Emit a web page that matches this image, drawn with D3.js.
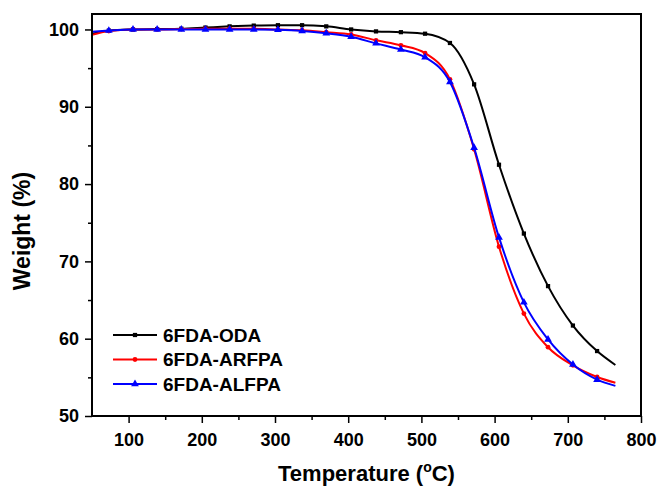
<!DOCTYPE html>
<html>
<head>
<meta charset="utf-8">
<script src="https://cdn.jsdelivr.net/npm/d3@7"></script>
<style>
body { margin: 0; background: #fff; }
text { font-family: Arial, "Liberation Sans", sans-serif; font-weight: bold; }
</style>
</head>
<body>
<div id="chart"></div>
<script>
// data
var temps = [50, 73, 106, 139, 172, 205, 238, 271, 304, 337, 370, 404, 438, 472, 505, 539, 572, 606, 640, 673, 707, 740, 765];
var odaW   = [99.45, 99.85, 100.0, 100.05, 100.1, 100.25, 100.4, 100.5, 100.55, 100.55, 100.4, 100.0, 99.75, 99.65, 99.45, 98.25, 92.9, 82.5, 73.6, 66.8, 61.7, 58.4, 56.6];
var arfpaW = [99.3, 99.8, 100.0, 100.0, 100.05, 100.1, 100.1, 100.1, 100.0, 99.9, 99.65, 99.35, 98.6, 97.95, 96.95, 93.55, 84.5, 71.9, 63.25, 58.9, 56.55, 55.05, 54.3];
var alfpaW = [99.7, 99.85, 100.0, 100.0, 100.0, 100.0, 100.0, 100.0, 99.95, 99.8, 99.5, 99.05, 98.2, 97.4, 96.4, 93.2, 84.7, 73.1, 64.7, 59.9, 56.65, 54.7, 53.9];
var seriesNames = ["6FDA-ODA", "6FDA-ARFPA", "6FDA-ALFPA"];
var xTicks = [100, 200, 300, 400, 500, 600, 700, 800];
var yTicks = [50, 60, 70, 80, 90, 100];

var W = 657, H = 488;
var margin = {left: 92, top: 14, right: 16, bottom: 72};

var svg = d3.select("#chart").append("svg")
	.attr("width", W)
	.attr("height", H);

var x = d3.scaleLinear().domain([50, 800]).range([margin.left, W - margin.right]);
var y = d3.scaleLinear().domain([50, 102]).range([H - margin.bottom, margin.top]);

var series = [
	{name: seriesNames[0], vals: odaW,   color: "#000000", sym: d3.symbolSquare,   size: 18},
	{name: seriesNames[1], vals: arfpaW, color: "#ff0000", sym: d3.symbolCircle,   size: 18},
	{name: seriesNames[2], vals: alfpaW, color: "#0000ff", sym: d3.symbolTriangle, size: 26}
];

var line = d3.line()
	.x(function(d){ return x(d[0]); })
	.y(function(d){ return y(d[1]); })
	.curve(d3.curveMonotoneX);

var plot = svg.append("g");

series.forEach(function(s){
	var pts = temps.map(function(t, i){ return [t, s.vals[i]]; });
	plot.append("path")
		.datum(pts)
		.attr("d", line)
		.attr("fill", "none")
		.attr("stroke", s.color)
		.attr("stroke-width", 2);
	// markers on the interior points only
	plot.selectAll(null)
		.data(pts.slice(1, pts.length - 1))
		.enter().append("path")
		.attr("d", d3.symbol().type(s.sym).size(s.size))
		.attr("transform", function(d){ return "translate(" + x(d[0]) + "," + y(d[1]) + ")"; })
		.attr("fill", s.color);
});

// frame
svg.append("rect")
	.attr("x", margin.left)
	.attr("y", margin.top)
	.attr("width", W - margin.right - margin.left)
	.attr("height", H - margin.bottom - margin.top)
	.attr("fill", "none")
	.attr("stroke", "#000")
	.attr("stroke-width", 2);

// minor ticks
var xMinor = d3.range(150, 800, 100);
var yMinor = d3.range(55, 100, 10);

svg.append("g")
	.attr("transform", "translate(0," + (H - margin.bottom) + ")")
	.call(d3.axisBottom(x).tickValues(xTicks).tickSize(7).tickPadding(10).tickFormat(d3.format("d")));
svg.append("g")
	.attr("transform", "translate(0," + (H - margin.bottom) + ")")
	.call(d3.axisBottom(x).tickValues(xMinor).tickSize(4).tickFormat(""));

svg.append("g")
	.attr("transform", "translate(" + margin.left + ",0)")
	.call(d3.axisLeft(y).tickValues(yTicks).tickSize(7).tickPadding(6).tickFormat(d3.format("d")));
svg.append("g")
	.attr("transform", "translate(" + margin.left + ",0)")
	.call(d3.axisLeft(y).tickValues(yMinor).tickSize(4).tickFormat(""));

svg.selectAll(".domain").remove();
svg.selectAll(".tick line").attr("stroke", "#000").attr("stroke-width", 1.5);
svg.selectAll(".tick text")
	.attr("fill", "#000")
	.style("font-size", "18px")
	.style("font-family", "Arial, 'Liberation Sans', sans-serif")
	.style("font-weight", "bold");

// axis titles
var xt = svg.append("text")
	.attr("x", (margin.left + W - margin.right) / 2)
	.attr("y", 481)
	.attr("text-anchor", "middle")
	.style("font-size", "22px");
xt.append("tspan").text("Temperature (");
xt.append("tspan").attr("dy", -9).style("font-size", "14px").text("o");
xt.append("tspan").attr("dy", 9).text("C)");

svg.append("text")
	.attr("transform", "translate(30,231) rotate(-90)")
	.attr("text-anchor", "middle")
	.style("font-size", "23px")
	.text("Weight (%)");

// legend
var legend = svg.append("g");
series.forEach(function(s, i){
	var ly = 335 + i * 24.5;
	legend.append("line")
		.attr("x1", 113).attr("x2", 157)
		.attr("y1", ly).attr("y2", ly)
		.attr("stroke", s.color)
		.attr("stroke-width", 2);
	legend.append("path")
		.attr("d", d3.symbol().type(s.sym).size(s.size))
		.attr("transform", "translate(135," + ly + ")")
		.attr("fill", s.color);
	legend.append("text")
		.attr("x", 163)
		.attr("y", ly + 6.5)
		.style("font-size", "19px")
		.text(s.name);
});
</script>
</body>
</html>
